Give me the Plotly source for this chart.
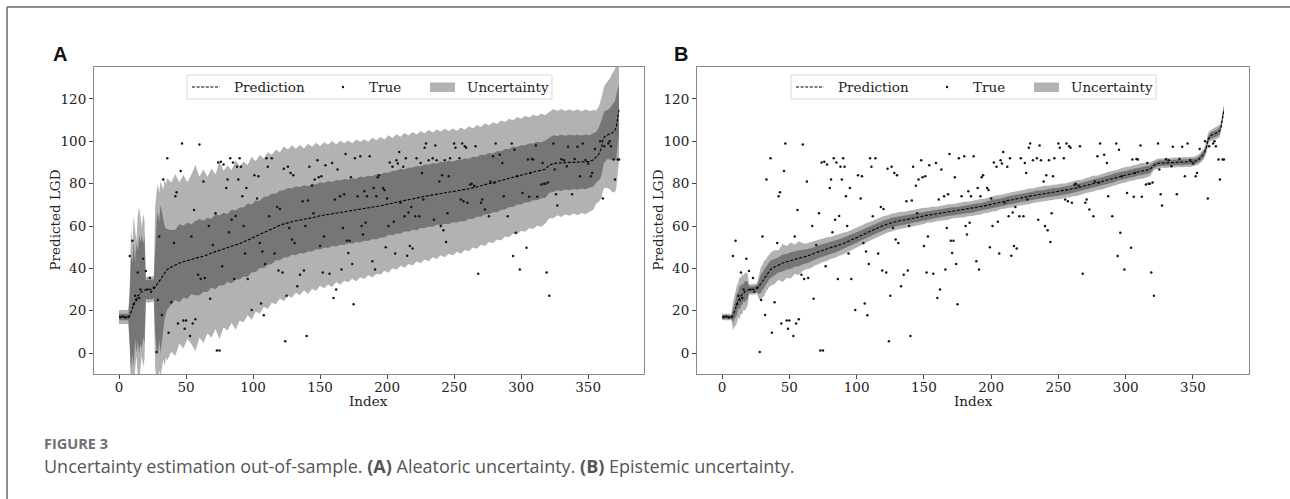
import plotly.graph_objects as go

W, H = 1290, 499

# ---------------- data ----------------
grid_x = [0, 1, 2, 3, 4, 5, 6, 7, 8, 9, 10, 11, 12, 13, 14, 15, 16, 17, 18, 19, 20,
          21, 22, 23, 24, 25, 26, 27, 28, 29, 30, 31, 32, 33, 34, 35, 36,
          39, 42, 45, 48, 51, 54, 57, 60, 63, 66, 69, 72, 75, 78, 81, 84, 87, 90,
          93, 96, 99, 102, 105, 108, 111, 114, 117, 120, 123, 126, 129, 132, 135,
          138, 141, 144, 147, 150, 153, 156, 159, 162, 165, 168, 171, 174, 177, 180,
          183, 186, 189, 192, 195, 198, 201, 204, 207, 210, 213, 216, 219, 222, 225,
          228, 231, 234, 237, 240, 243, 246, 249, 252, 255, 258, 261, 264, 267, 270,
          273, 276, 279, 282, 285, 288, 291, 294, 297, 300, 303, 306, 309, 312, 315,
          318, 321, 324, 327, 330, 333, 336, 339, 342, 345, 348, 351, 354,
          356, 358, 359, 360, 361, 362, 363, 364, 366, 368, 370, 371, 372, 373]

prediction = [17, 17, 17, 17, 17, 17, 17, 17, 17.5, 19, 21, 23, 25, 26, 27, 27.8, 28.5, 29, 29.5, 29.8, 30,
              30, 30, 30, 30, 30.2, 30.5, 31, 32, 33, 34, 35, 36, 37, 38, 38.8, 39.5,
              40.6, 41.6, 42.5, 43.1, 43.7, 44.3, 44.8, 45.3, 45.7, 46.3, 47.2, 47.9, 48.5, 49.1, 49.7, 50.3, 51, 51.7,
              52.5, 53.3, 54.2, 55.1, 56, 56.9, 57.8, 58.7, 59.5, 60.3, 61, 61.6, 62.1, 62.5, 62.8,
              63.1, 63.4, 63.9, 64.3, 64.8, 65.1, 65.4, 65.7, 66, 66.3, 66.6, 66.9, 67.1, 67.4, 67.8,
              68, 68.3, 68.7, 69, 69.5, 69.9, 70.4, 70.8, 71.3, 71.7, 72.1, 72.4, 72.9, 73.2, 73.6,
              74, 74.3, 74.7, 75, 75.4, 75.6, 75.9, 76.1, 76.4, 76.7, 77.1, 77.6, 78, 78.5, 79,
              79.5, 80, 80.4, 80.9, 81.5, 82.1, 82.7, 83.2, 83.7, 84.2, 84.7, 85.1, 85.6, 86, 86.3,
              86.8, 88.7, 89.5, 89.7, 89.8, 89.9, 90, 90.1, 90.1, 90.2, 90.3, 90.5, 91.3,
              92.5, 94, 95.5, 97, 100.5, 102, 102.6, 103, 103.5, 104, 105, 107, 111, 115]

# aleatoric (panel A) half-widths: inner (dark) and outer (light) bands
alea_inner = [1.5, 1.5, 1.5, 1.5, 1.5, 1.5, 1.5, 1.5, 10, 27, 22, 29, 18, 26, 21, 28, 24, 27, 22, 25, 4.5,
              4.5, 4.8, 4.5, 4.7, 4.5, 4.6, 22, 30, 34, 28, 35, 31, 26, 22, 20, 19,
              17.5, 16.5, 18.5, 17, 18, 16.5, 17.5, 18, 16.8, 17.5, 16.2, 17.8, 16.5, 17.2, 16, 17.5, 16.3, 17,
              16.4, 17.3, 16, 16.8, 15.8, 16.9, 16.1, 16.6, 15.7, 16.5, 15.9, 16.4, 15.6, 16.3, 15.5,
              16.1, 15.4, 16, 15.3, 15.9, 15.2, 15.8, 15.1, 15.7, 15.2, 15.6, 15, 15.5, 14.9, 15.6,
              15, 15.4, 14.8, 15.4, 14.9, 15.3, 14.7, 15.2, 14.8, 15.3, 14.6, 15.1, 14.7, 15.2, 14.5,
              15, 14.6, 15.1, 14.4, 14.9, 14.5, 15, 14.3, 14.8, 14.4, 14.9, 14.2, 14.7, 14.1, 14.6,
              14, 14.5, 13.9, 14.4, 13.8, 14.3, 13.7, 14.2, 13.6, 14, 13.5, 13.9, 13.4, 13.8, 13.2,
              13.6, 13, 13.4, 12.8, 13.3, 12.7, 13.1, 12.6, 13, 12.5, 12.9, 12.4, 12.6,
              12, 12.5, 13, 13, 12.5, 12, 12, 11.5, 12, 13, 14, 15, 14, 12]

alea_outer = [3.3, 3.3, 3.3, 3.3, 3.3, 3.3, 3.3, 3.3, 14, 40, 30, 42, 33, 27, 38, 41, 36, 30, 36, 33, 6,
              6, 6.3, 6, 6.2, 6, 6.2, 38, 44, 47, 42, 46, 43, 40, 44, 41, 43,
              40, 43, 38, 41, 37, 40, 44, 38, 41, 37, 40, 36.5, 42, 37, 39, 36, 40, 36.5,
              38, 35.5, 38.5, 35.5, 37.5, 35, 37, 35, 36.5, 34.5, 36.5, 34.5, 36, 34, 35.5,
              33.5, 35.5, 33.5, 35, 33, 34.5, 33, 34.5, 32.5, 34, 32.5, 33.5, 32, 33.5, 32,
              33, 31.5, 33, 31.5, 32.5, 31, 32.5, 30.8, 32, 30.5, 31.8, 30.3, 31.5, 30, 31.2,
              29.8, 31, 29.5, 30.6, 29.2, 30.3, 29, 30, 28.6, 29.8, 28.4, 29.5, 28.1, 29.2, 27.8,
              29, 27.6, 28.6, 27.3, 28.3, 27, 28, 26.8, 27.7, 26.5, 27.4, 26.2, 27, 25.9, 26.7,
              25.6, 25, 25.8, 24.6, 25.5, 24.4, 25.2, 24.2, 25, 24, 24.8, 23.8, 23.5,
              22, 22.5, 23, 24, 24, 24, 24.5, 25, 26, 28, 29, 29, 27, 24]

# epistemic (panel B) half-widths
epi_inner = [0.8, 0.8, 0.8, 0.8, 0.8, 0.8, 0.8, 0.8, 3, 3.5, 4, 5, 4, 5.5, 4.5, 5, 4, 5, 4.5, 4, 1.5,
             1.5, 1.5, 1.5, 1.5, 1.5, 1.5, 3, 4, 4.5, 4, 4.5, 4.2, 4, 4.3, 4, 4.2,
             3.8, 3.6, 4.0, 3.7, 3.9, 3.6, 3.8, 3.4, 3.3, 3.2, 3.1, 3.0, 3.0, 2.9, 2.8, 2.8, 2.7, 2.7,
             2.6, 2.6, 2.6, 2.5, 2.5, 2.4, 2.4, 2.4, 2.3, 2.3, 2.3, 2.2, 2.2, 2.2, 2.1,
             2.1, 2.1, 2.0, 2.0, 2.0, 1.9, 1.8, 2.0, 1.9, 1.8, 1.9, 2.0, 1.8, 1.9, 1.9,
             1.8, 2.0, 1.9, 1.8, 1.9, 1.9, 2.0, 1.8, 1.9, 1.8, 1.9, 2.0, 1.8, 1.9, 1.9,
             1.8, 2.0, 1.9, 1.8, 1.9, 1.9, 2.0, 1.8, 1.9, 1.8, 1.9, 2.0, 1.8, 1.9, 1.9,
             1.8, 2.0, 1.9, 1.8, 1.9, 1.9, 2.0, 1.8, 1.9, 1.8, 1.9, 2.0, 1.8, 1.9, 1.9,
             1.8, 1.3, 1.3, 1.2, 1.3, 1.3, 1.2, 1.3, 1.3, 1.2, 1.3, 1.3, 1.3,
             1.4, 1.5, 1.5, 1.6, 1.6, 1.5, 1.5, 1.5, 1.6, 1.6, 1.7, 1.7, 1.6, 1.5]

epi_outer = [1.5, 1.5, 1.5, 1.5, 1.5, 1.5, 1.5, 1.5, 6.5, 7, 8, 9, 8, 10, 8.5, 9.5, 8, 9, 8.5, 7.5, 2.5,
             2.5, 2.5, 2.5, 2.5, 2.5, 2.5, 5, 7, 8, 7.5, 8.5, 8, 7.5, 8, 7.5, 8,
             8, 7, 9, 7.5, 8.5, 7, 8, 6.5, 6, 6.2, 5.8, 5.9, 5.5, 5.6, 5.2, 5.3, 5.0, 5.1,
             4.8, 4.9, 4.7, 4.7, 4.5, 4.6, 4.4, 4.4, 4.2, 4.3, 4.1, 4.2, 4.0, 4.1, 3.9,
             4.0, 3.8, 3.9, 3.7, 3.8, 3.5, 3.7, 3.4, 3.6, 3.5, 3.7, 3.4, 3.6, 3.5, 3.7,
             3.4, 3.6, 3.5, 3.7, 3.4, 3.6, 3.5, 3.7, 3.4, 3.6, 3.5, 3.7, 3.4, 3.6, 3.5,
             3.7, 3.4, 3.6, 3.5, 3.7, 3.4, 3.6, 3.5, 3.7, 3.4, 3.6, 3.5, 3.7, 3.4, 3.6,
             3.5, 3.7, 3.4, 3.6, 3.5, 3.7, 3.4, 3.6, 3.5, 3.7, 3.4, 3.6, 3.5, 3.7, 3.4,
             3.3, 2.2, 2.4, 2.2, 2.4, 2.2, 2.4, 2.2, 2.4, 2.2, 2.4, 2.2, 2.3,
             2.4, 2.5, 2.6, 2.7, 2.8, 2.7, 2.6, 2.6, 2.7, 2.8, 2.9, 2.9, 2.7, 2.5]

true_idx = [8, 10, 14, 18, 20, 23, 16, 15, 28, 30, 29, 33, 36, 32, 37, 39, 42, 43, 41, 46,
            47, 44, 48, 49, 50, 53, 55, 57, 56, 60, 63, 59, 61, 64, 68, 67, 72, 73, 75, 74,
            76, 78, 80, 81, 83, 85, 88, 90, 91, 84, 87, 86, 89, 92, 93, 95, 96, 99, 101, 104,
            103, 107, 109, 106, 108, 110, 114, 111, 118, 120, 123, 126, 128, 130, 116, 119, 122, 125, 124, 131,
            133, 135, 138, 137, 141, 140, 142, 144, 146, 148, 149, 151, 153, 152, 157, 154, 159, 160, 162, 163,
            165, 168, 167, 170, 172, 166, 171, 174, 175, 173, 169, 176, 180, 187, 181, 182, 183, 185, 189, 191,
            190, 193, 194, 197, 198, 200, 199, 205, 206, 202, 204, 207, 209, 208, 212, 214, 215, 219, 213, 216,
            218, 221, 224, 222, 225, 226, 228, 229, 231, 234, 236, 237, 240, 242, 244, 241, 243, 246, 247, 250,
            251, 254, 256, 258, 259, 262, 263, 266, 257, 260, 268, 271, 273, 276, 277, 279, 281, 284, 286, 290,
            293, 295, 294, 296, 299, 304, 305, 308, 309, 306, 312, 311, 315, 317, 319, 321, 324, 326, 327, 335,
            338, 342, 346, 352, 355, 361, 359, 366, 367, 370, 369, 372, 373,
            54, 70, 77, 82, 94, 105, 112, 127, 129, 139, 145, 150, 161, 178, 184, 192, 201, 210, 217, 227,
            235, 239, 245, 255, 265, 270, 280, 287, 297, 301, 307, 316, 325, 334, 344, 353, 362, 365,
            1, 3, 5, 7, 11, 12, 13, 21, 24, 26, 330, 332, 340, 348, 350, 318, 320]

true_val = [45.8, 53, 38, 44.5, 38.7, 35.5, 30, 26, 0.5, 55, 25, 82, 92, 18, 9.6, 24, 74, 76, 52, 86,
            99, 14, 15.4, 11.5, 15.4, 8, 14, 16, 67.6, 98.5, 81, 37, 35, 35.5, 25.6, 60, 66, 1.2, 1.2, 90,
            90.3, 89, 78, 82, 92, 90, 88, 92, 88, 63, 64.7, 35, 82, 74, 60, 78, 35, 20.3, 84, 83.5,
            73, 48, 42, 23.4, 17.8, 92, 92, 88, 69, 68, 87, 88, 85, 84, 47, 39, 38, 27, 5.6, 52,
            31.6, 37, 39, 71.7, 72, 8, 88, 79, 82, 91, 83, 83.5, 55, 38, 37.4, 88.7, 89.8, 26, 30, 86.7,
            74, 75, 59, 53, 53, 39.5, 47.3, 42, 23, 83, 94, 92, 93, 93, 60, 56, 76.4, 74, 43.4, 39.5,
            78, 83, 84, 78, 77, 73, 50, 62, 47, 90, 88, 91, 95, 89.5, 88, 92, 46, 49.4, 64.6, 66.4,
            69, 64.6, 64.6, 92, 89.8, 85, 97, 99, 91, 92, 98, 91, 60, 58, 52.5, 84, 91, 83.5, 92, 99,
            97, 92, 99, 97.7, 97, 79.6, 80, 97.7, 71.7, 71, 37.4, 72.5, 67.8, 64.6, 81, 93, 99, 93.7, 89.8, 64.6,
            99, 96, 45.8, 56.8, 39.5, 49.7, 91.4, 91.7, 91.4, 73.8, 73.8, 98, 79.6, 80, 38, 27, 99, 75, 69.7, 97.4,
            75, 97.4, 99, 83.5, 96.4, 73, 100, 100, 97.7, 82, 91.4, 91.4, 91.4,
            55, 51, 41, 57, 47, 52, 64.6, 59, 53.6, 60, 66, 50.5, 72.5, 74, 61.5, 74, 60, 71, 50.5, 72.5,
            63, 81, 66, 72.5, 79, 71, 80.4, 74, 83.5, 75.6, 85, 89.8, 86.7, 88.2, 83.5, 85, 97.7, 99,
            17, 17.2, 16.8, 17, 23, 27, 25, 30, 29, 31, 91.5, 91, 91.6, 91.2, 89.5, 80, 80.5]

x_ticks = [0, 50, 100, 150, 200, 250, 300, 350]
y_ticks = [0, 20, 40, 60, 80, 100, 120]
legend_labels = ["Prediction", "True", "Uncertainty"]
panel_labels = ["A", "B"]
caption_head = "FIGURE 3"
caption_text = ("Uncertainty estimation out-of-sample. <b>(A)</b> Aleatoric uncertainty. "
                "<b>(B)</b> Epistemic uncertainty.")

assert len(grid_x) == len(prediction) == len(alea_inner) == len(alea_outer) == len(epi_inner) == len(epi_outer)
assert len(true_idx) == len(true_val)

# ---------------- styling ----------------
LIGHT = "#b2b2b2"
DARK = "#767676"
SERIF = "DejaVu Serif"
FS = 13.5


def px(x):
    return x / W


def py(y):
    return 1 - y / H


fig = go.Figure()


def band(hw, color, xa, ya):
    up = [c + h for c, h in zip(prediction, hw)]
    lo = [c - h for c, h in zip(prediction, hw)]
    return go.Scatter(x=grid_x + grid_x[::-1], y=up + lo[::-1], fill="toself",
                      fillcolor=color, line=dict(width=0, color=color), mode="lines",
                      hoverinfo="skip", showlegend=False, xaxis=xa, yaxis=ya)


for xa, ya, inner, outer in [("x", "y", alea_inner, alea_outer),
                             ("x2", "y2", epi_inner, epi_outer)]:
    fig.add_trace(band(outer, LIGHT, xa, ya))
    fig.add_trace(band(inner, DARK, xa, ya))
    fig.add_trace(go.Scatter(x=true_idx, y=true_val, mode="markers",
                             marker=dict(size=2.5, color="#161616", line=dict(width=0)),
                             showlegend=False, xaxis=xa, yaxis=ya))
    fig.add_trace(go.Scatter(x=grid_x, y=prediction, mode="lines",
                             line=dict(color="black", width=1.1, dash="3px,1.6px"),
                             showlegend=False, xaxis=xa, yaxis=ya))

y_dom = [py(374), py(67)]
axA = [94, 644]
axB = [697, 1249]

common_x = dict(range=[-18.65, 391.65], tickvals=x_ticks, ticks="outside", ticklen=4,
                tickcolor="#444", showline=True, linecolor="#8a8a8a", linewidth=1, mirror=True,
                showgrid=False, zeroline=False, ticklabelstandoff=-3,
                tickfont=dict(family=SERIF, size=FS, color="#222"))
common_y = dict(range=[-9.9, 135.1], tickvals=y_ticks, ticks="outside", ticklen=4,
                tickcolor="#444", showline=True, linecolor="#8a8a8a", linewidth=1, mirror=True,
                showgrid=False, zeroline=False, tickfont=dict(family=SERIF, size=FS, color="#222"))

fig.update_layout(
    width=W, height=H, margin=dict(l=0, r=0, t=0, b=0),
    paper_bgcolor="white", plot_bgcolor="white", showlegend=False, hovermode=False,
    xaxis=dict(domain=[px(axA[0]), px(axA[1])], anchor="y", **common_x),
    yaxis=dict(domain=y_dom, anchor="x", **common_y),
    xaxis2=dict(domain=[px(axB[0]), px(axB[1])], anchor="y2", **common_x),
    yaxis2=dict(domain=y_dom, anchor="x2", **common_y),
)

shapes = []
annotations = []

# outer frame (left and top edges visible)
shapes.append(dict(type="line", xref="paper", yref="paper", x0=px(7), x1=px(1300), y0=py(7), y1=py(7),
                   line=dict(color="#6a6a6a", width=1.5)))
shapes.append(dict(type="line", xref="paper", yref="paper", x0=px(7), x1=px(7), y0=py(7), y1=py(510),
                   line=dict(color="#6a6a6a", width=1.5)))

for (x0, x1), lab, lab_x in [(axA, panel_labels[0], 60), (axB, panel_labels[1], 681)]:
    cx = (x0 + x1) / 2
    # legend box
    shapes.append(dict(type="rect", xref="paper", yref="paper", x0=px(cx - 182), x1=px(cx + 183),
                       y0=py(99), y1=py(75), line=dict(color="#d9d9d9", width=1),
                       fillcolor="rgba(255,255,255,0.85)", layer="above"))
    shapes.append(dict(type="line", xref="paper", yref="paper", x0=px(cx - 177), x1=px(cx - 149),
                       y0=py(87), y1=py(87), line=dict(color="black", width=1.1, dash="3px,1.6px")))
    shapes.append(dict(type="circle", xref="paper", yref="paper", x0=px(cx - 27.2), x1=px(cx - 24.8),
                       y0=py(88.2), y1=py(85.8), fillcolor="#111", line=dict(width=0)))
    shapes.append(dict(type="rect", xref="paper", yref="paper", x0=px(cx + 61), x1=px(cx + 86),
                       y0=py(92), y1=py(82.5), fillcolor=LIGHT, line=dict(width=0)))
    for txt, tx in zip(legend_labels, [cx - 137, cx - 2, cx + 96]):
        annotations.append(dict(text=txt, xref="paper", yref="paper", x=px(tx), y=py(87),
                                xanchor="left", yanchor="middle", showarrow=False,
                                font=dict(family=SERIF, size=FS, color="#222")))
    # axis titles
    annotations.append(dict(text="Index", xref="paper", yref="paper", x=px(cx), y=py(401),
                            xanchor="center", yanchor="middle", showarrow=False,
                            font=dict(family=SERIF, size=FS, color="#222")))
    annotations.append(dict(text="Predicted LGD", xref="paper", yref="paper", x=px(x0 - 40),
                            y=py(220.5), xanchor="center", yanchor="middle", textangle=-90,
                            showarrow=False, font=dict(family=SERIF, size=FS, color="#222")))
    # panel label
    annotations.append(dict(text="<b>%s</b>" % lab, xref="paper", yref="paper", x=px(lab_x),
                            y=py(54), xanchor="center", yanchor="middle", showarrow=False,
                            font=dict(family="Liberation Sans", size=20, color="#111")))

annotations.append(dict(text="<b>%s</b>" % caption_head, xref="paper", yref="paper", x=px(42),
                        y=py(443), xanchor="left", yanchor="middle", showarrow=False,
                        font=dict(family="Open Sans", size=14.5, color="#707070")))
annotations.append(dict(text=caption_text, xref="paper", yref="paper", x=px(42), y=py(466),
                        xanchor="left", yanchor="middle", showarrow=False,
                        font=dict(family="Open Sans", size=18, color="#555555")))

fig.update_layout(shapes=shapes, annotations=annotations)
fig.write_html("out.html", config={"displayModeBar": False, "staticPlot": True},
               post_script="document.body.style.margin='0';document.body.style.overflow='hidden';")
